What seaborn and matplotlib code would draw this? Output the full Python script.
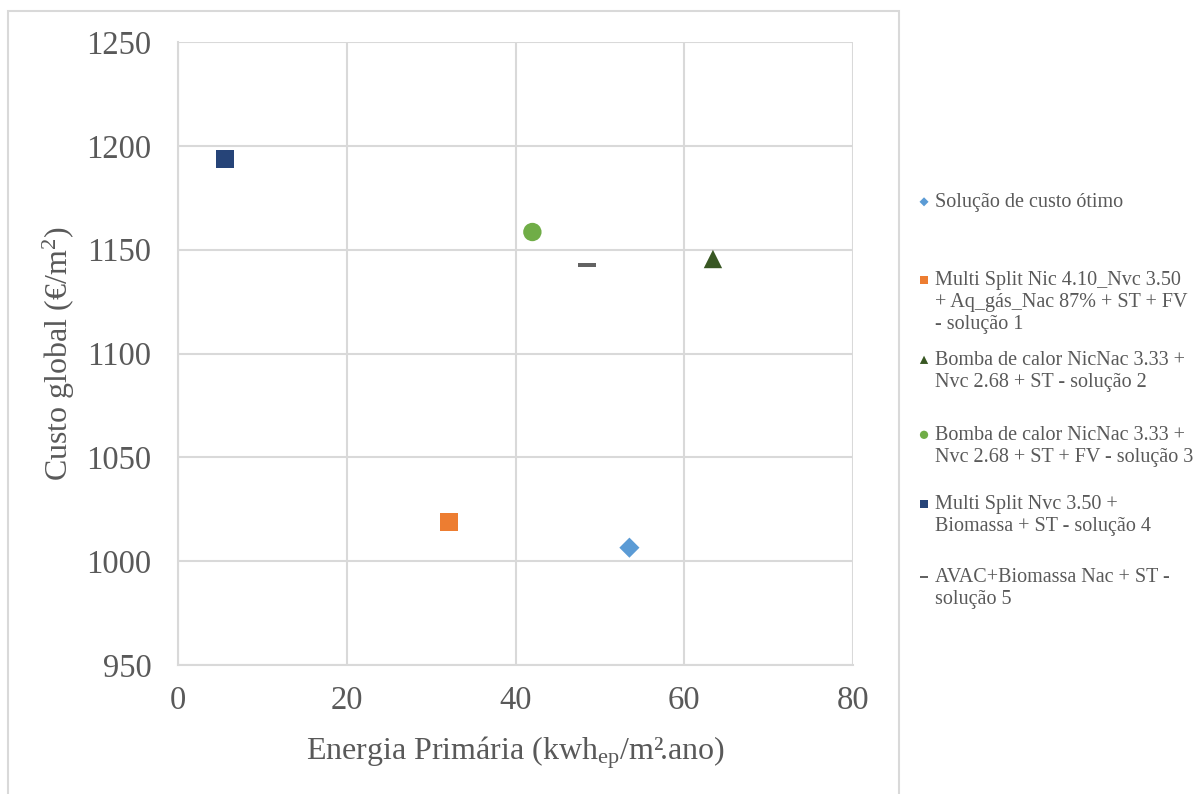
import matplotlib
matplotlib.use("Agg")
import matplotlib.pyplot as plt
from matplotlib.patches import Rectangle
from matplotlib.lines import Line2D
import seaborn as sns
import pandas as pd

# Solutions: primary energy vs. global cost
labels = [
    "Solução de custo ótimo",
    "Multi Split Nic 4.10_Nvc 3.50\n+ Aq_gás_Nac 87% + ST + FV\n- solução 1",
    "Bomba de calor NicNac 3.33 +\nNvc 2.68 + ST - solução 2",
    "Bomba de calor NicNac 3.33 +\nNvc 2.68 + ST + FV - solução 3",
    "Multi Split Nvc 3.50 +\nBiomassa + ST - solução 4",
    "AVAC+Biomassa Nac + ST -\nsolução 5",
]
energia = [53.5, 32.1, 63.4, 42.0, 5.6, 48.5]
custo = [1006.5, 1019.0, 1145.5, 1158.5, 1193.5, 1142.5]
cores = ["#5B9BD5", "#ED7D31", "#385723", "#70AD47", "#264478", "#636363"]

x_ticks = [0, 20, 40, 60, 80]
y_ticks = [950, 1000, 1050, 1100, 1150, 1200, 1250]

# a short horizontal bar as a filled marker
dash = [(-1, -0.22), (1, -0.22), (1, 0.22), (-1, 0.22), (-1, -0.22)]
marcadores = ["D", "s", "^", "o", "s", dash]
tamanhos = [105, 170, 175, 175, 170, 170]

# top of each legend block, in pixels from the top of the figure
legend_tops = [193, 271, 351, 426, 495, 568]

df = pd.DataFrame({"solucao": labels, "energia": energia, "custo": custo})

sns.set_theme(style="white")
plt.rcParams["font.family"] = ["Liberation Serif", "DejaVu Serif"]
plt.rcParams["mathtext.fontset"] = "custom"
plt.rcParams["mathtext.rm"] = "Liberation Serif"
plt.rcParams["mathtext.it"] = "Liberation Serif:italic"

grid_c = "#D9D9D9"
text_c = "#595959"

W, H = 1197, 794
fig = plt.figure(figsize=(W / 100, H / 100), dpi=100)
ax = fig.add_axes([178 / W, 1 - 665 / H, (853 - 178) / W, (665 - 42) / H])

for i, row in df.iterrows():
    sns.scatterplot(x=[row.energia], y=[row.custo], ax=ax, marker=marcadores[i],
                    s=tamanhos[i], color=cores[i], edgecolor="none",
                    zorder=3, legend=False)

ax.set_xlim(0, 80)
ax.set_ylim(950, 1250)
ax.set_xticks(x_ticks)
ax.set_yticks(y_ticks)
ax.grid(True, color=grid_c, linewidth=1.5)
ax.set_axisbelow(True)
for side in ["top", "right"]:
    ax.spines[side].set_visible(False)
for side in ["left", "bottom"]:
    ax.spines[side].set_color(grid_c)
    ax.spines[side].set_linewidth(1.5)

ax.tick_params(axis="both", which="major", length=7, width=1.2, color=grid_c,
               labelsize=23.5, labelcolor=text_c, direction="out")
ax.tick_params(axis="y", pad=12)
ax.tick_params(axis="x", pad=8)

ax.set_xlabel(r"Energia Primária (kwh$_{\mathrm{ep}}$/m²$\!$.ano)", fontsize=23,
              color=text_c, labelpad=13)
ax.set_ylabel(r"Custo global (€/m$^{\mathrm{2}}$)", fontsize=23, color=text_c,
              labelpad=7)

# legend: one block per solution, marker beside the first line
blank = Line2D([], [], linestyle="none")
for coll, label, top in zip(ax.collections, labels, legend_tops):
    lines = label.split("\n")
    handles = [coll] + [blank] * (len(lines) - 1)
    leg = fig.legend(handles=handles, labels=lines, loc="upper left",
                     bbox_to_anchor=(920 / W, 1 - top / H), frameon=False,
                     fontsize=14.5, markerscale=0.45, handlelength=0.4,
                     handletextpad=0.35, labelspacing=0.15, borderpad=0,
                     borderaxespad=0)
    for t in leg.get_texts():
        t.set_color(text_c)

# outer chart frame
fig.patches.append(Rectangle((8 / W, -0.02), (899 - 8) / W, 1.02 - 11 / H,
                             transform=fig.transFigure, fill=False,
                             edgecolor=grid_c, linewidth=1.5))

fig.savefig("out.png", dpi=100, facecolor="white")
